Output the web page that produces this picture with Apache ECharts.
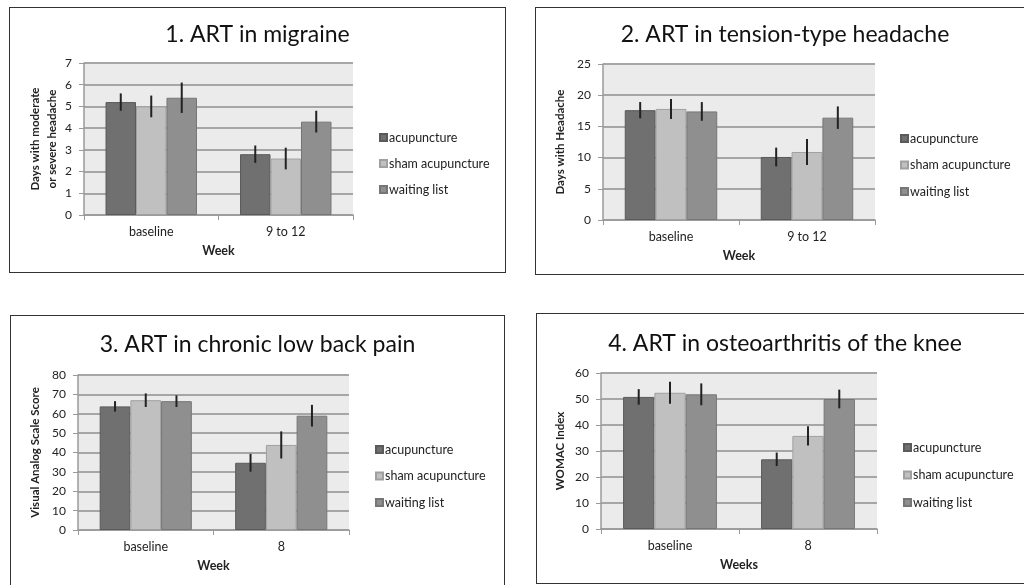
<!DOCTYPE html>
<html>
<head>
<meta charset="utf-8">
<script src="https://cdn.jsdelivr.net/npm/echarts@6/dist/echarts.min.js"></script>
<style>
html, body {
  margin: 0;
  padding: 0;
  width: 1024px;
  height: 585px;
  overflow: hidden;
  background: #fff;
  position: relative;
}
.panel {
  position: absolute;
  border: 1.5px solid #333;
  box-sizing: border-box;
  background: #fff;
}
</style>
</head>
<body>
<div id="p1" class="panel" style="left:9px;top:7px;width:497px;height:266px"></div>
<div id="p2" class="panel" style="left:535px;top:7px;width:500px;height:268px"></div>
<div id="p3" class="panel" style="left:10px;top:315px;width:495px;height:280px"></div>
<div id="p4" class="panel" style="left:536px;top:313px;width:498px;height:271px"></div>

<script>
// groups and categories
const groupNames = ["acupuncture", "sham acupuncture", "waiting list"];
const weeksHeadache = ["baseline", "9 to 12"];
const weeksPain = ["baseline", "8"];

// 1. migraine (days with moderate or severe headache)
const migraineAcu = [5.2, 2.8];
const migraineSham = [5.0, 2.6];
const migraineWait = [5.4, 4.3];
const migraineAcuErr = [0.4, 0.4];
const migraineShamErr = [0.5, 0.5];
const migraineWaitErr = [0.7, 0.5];

// 2. tension-type headache (days with headache)
const tensionAcu = [17.6, 10.1];
const tensionSham = [17.8, 10.9];
const tensionWait = [17.4, 16.4];
const tensionAcuErr = [1.3, 1.5];
const tensionShamErr = [1.6, 2.1];
const tensionWaitErr = [1.5, 1.8];

// 3. chronic low back pain (VAS)
const backAcu = [63.8, 34.7];
const backSham = [67.0, 43.9];
const backWait = [66.5, 59.0];
const backAcuErr = [2.7, 4.6];
const backShamErr = [3.5, 7.0];
const backWaitErr = [3.0, 5.6];

// 4. osteoarthritis of the knee (WOMAC)
const kneeAcu = [50.8, 26.8];
const kneeSham = [52.4, 35.8];
const kneeWait = [51.8, 50.0];
const kneeAcuErr = [3.0, 2.6];
const kneeShamErr = [4.2, 3.7];
const kneeWaitErr = [4.2, 3.6];

const barColors = ["#707070", "#c0c0c0", "#8f8f8f"];
const barBorders = ["#5a5a5a", "#a0a0a0", "#767676"];
const FONT = "Lato, 'Open Sans', sans-serif";
const CAT_GAP = 0.32;

function errorBars(values, errs, idx) {
  return {
    type: "custom",
    silent: true,
    z: 5,
    data: values.map(function (v, i) { return [i, v, errs[i]]; }),
    renderItem: function (params, api) {
      const cat = api.value(0);
      const v = api.value(1);
      const e = api.value(2);
      const band = api.size([1, 0])[0];
      const barW = band * (1 - CAT_GAP) / 3;
      const x = api.coord([cat, 0])[0] + (idx - 1) * barW;
      const top = api.coord([cat, v + e])[1];
      const bot = api.coord([cat, v - e])[1];
      return {
        type: "line",
        shape: { x1: x, y1: top, x2: x, y2: bot },
        style: { stroke: "#222", lineWidth: 2 }
      };
    }
  };
}

function makePanel(id, cfg) {
  const chart = echarts.init(document.getElementById(id));
  const series = [];
  cfg.values.forEach(function (vals, i) {
    series.push({
      name: groupNames[i],
      type: "bar",
      data: vals,
      barGap: "0%",
      barCategoryGap: (CAT_GAP * 100) + "%",
      itemStyle: { color: barColors[i], borderColor: barBorders[i], borderWidth: 1 }
    });
  });
  cfg.values.forEach(function (vals, i) {
    series.push(errorBars(vals, cfg.errors[i], i));
  });

  chart.setOption({
    animation: false,
    textStyle: { fontFamily: FONT },
    title: {
      text: cfg.title,
      left: "center",
      top: cfg.titleTop,
      textStyle: { fontFamily: FONT, fontSize: 23, fontWeight: "normal", color: "#111" }
    },
    legend: {
      data: groupNames,
      orient: "vertical",
      left: cfg.legendLeft,
      top: cfg.legendTop,
      icon: "rect",
      itemWidth: 7,
      itemHeight: 7,
      itemGap: cfg.legendGap,
      textStyle: { fontFamily: FONT, fontSize: 12.5, color: "#222", padding: [0, 0, 0, -3] }
    },
    grid: {
      left: cfg.grid[0],
      top: cfg.grid[1],
      width: cfg.grid[2],
      height: cfg.grid[3],
      show: true,
      backgroundColor: "#ebebeb",
      borderWidth: 0
    },
    xAxis: {
      type: "category",
      data: cfg.categories,
      name: cfg.xName,
      nameLocation: "middle",
      nameGap: 29,
      nameTextStyle: { fontFamily: FONT, fontWeight: "bold", fontSize: 12.5, color: "#222" },
      axisLine: { lineStyle: { color: "#9a9a9a", width: 1.5 } },
      axisTick: { show: true, length: 5, lineStyle: { color: "#9a9a9a" } },
      axisLabel: { fontFamily: FONT, fontSize: 12.5, color: "#222", margin: 10 }
    },
    yAxis: {
      type: "value",
      min: 0,
      max: cfg.yMax,
      interval: cfg.yStep,
      name: cfg.yName,
      nameLocation: "middle",
      nameGap: cfg.yNameGap,
      nameMoveOverlap: false,
      nameTextStyle: { fontFamily: FONT, fontWeight: "bold", fontSize: 11.5, color: "#222", lineHeight: 17 },
      axisLine: { show: true, lineStyle: { color: "#9a9a9a", width: 1.5 } },
      axisTick: { show: true, length: 5, lineStyle: { color: "#9a9a9a" } },
      axisLabel: { fontFamily: FONT, fontSize: 12, color: "#222", margin: 12 },
      splitLine: { show: true, lineStyle: { color: "#a6a6a6", width: 2 } }
    },
    series: series
  });
  return chart;
}

makePanel("p1", {
  title: "1. ART in migraine",
  titleTop: 10,
  categories: weeksHeadache,
  values: [migraineAcu, migraineSham, migraineWait],
  errors: [migraineAcuErr, migraineShamErr, migraineWaitErr],
  yMax: 7, yStep: 1,
  yName: "Days with moderate\nor severe headache",
  yNameGap: 23,
  xName: "Week",
  grid: [74, 55, 269, 152],
  legendLeft: 364, legendTop: 118, legendGap: 13
});

makePanel("p2", {
  title: "2. ART in tension-type headache",
  titleTop: 10,
  categories: weeksHeadache,
  values: [tensionAcu, tensionSham, tensionWait],
  errors: [tensionAcuErr, tensionShamErr, tensionWaitErr],
  yMax: 25, yStep: 5,
  yName: "Days with Headache",
  yNameGap: 34,
  xName: "Week",
  grid: [67, 56, 272, 156],
  legendLeft: 359, legendTop: 119, legendGap: 13.5
});

makePanel("p3", {
  title: "3. ART in chronic low back pain",
  titleTop: 12,
  categories: weeksPain,
  values: [backAcu, backSham, backWait],
  errors: [backAcuErr, backShamErr, backWaitErr],
  yMax: 80, yStep: 10,
  yName: "Visual Analog Scale Score",
  yNameGap: 34,
  xName: "Week",
  grid: [67, 59, 271, 155],
  legendLeft: 359, legendTop: 122, legendGap: 13.5
});

makePanel("p4", {
  title: "4. ART in osteoarthritis of the knee",
  titleTop: 13,
  categories: weeksPain,
  values: [kneeAcu, kneeSham, kneeWait],
  errors: [kneeAcuErr, kneeShamErr, kneeWaitErr],
  yMax: 60, yStep: 10,
  yName: "WOMAC Index",
  yNameGap: 32,
  xName: "Weeks",
  grid: [64, 59, 276, 156],
  legendLeft: 361, legendTop: 122, legendGap: 14.5
});
</script>
</body>
</html>
